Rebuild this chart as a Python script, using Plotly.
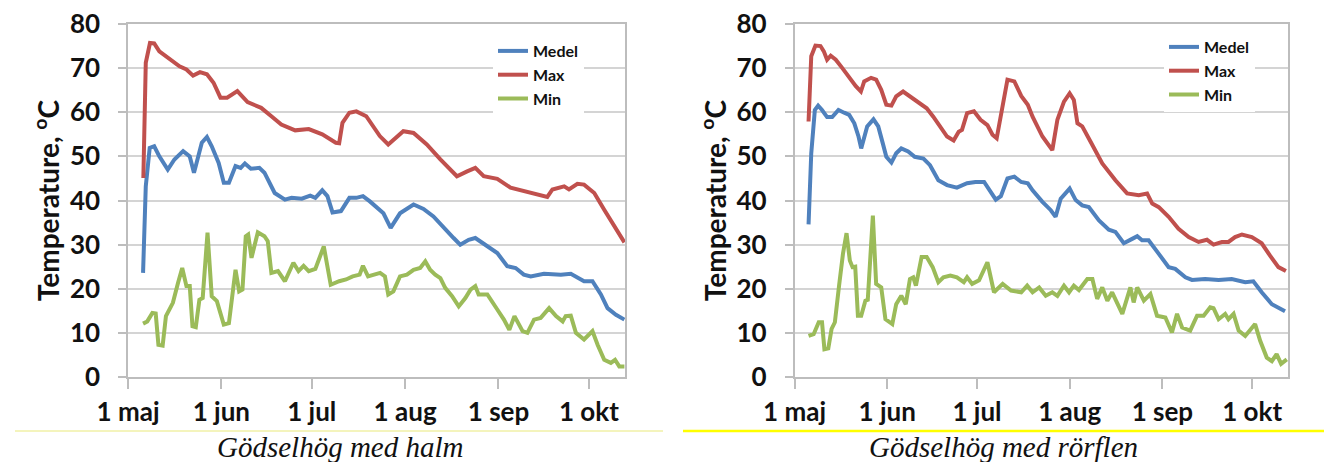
import plotly.graph_objects as go

# ---------------- data (x = days since 1 May) ----------------
month_ticks = [0, 31, 61, 92, 123, 153]
month_labels = ["1 maj", "1 jun", "1 jul", "1 aug", "1 sep", "1 okt"]
series_names = ["Medel", "Max", "Min"]
series_colors = ["#4F81BD", "#C0504D", "#9BBB59"]

# Left chart: Gödselhög med halm
halm_medel_day = [5.0, 5.9, 7.2, 8.7, 10.4, 13.2, 15.4, 18.3, 20.5, 21.9, 22.5, 24.5, 26.2, 27.8, 30.1,
                  31.8, 33.5, 35.7, 37.4, 38.8, 40.8, 43.6, 45.3, 48.7, 52.1, 54.3, 57.7, 60.5, 62.2, 64.5,
                  66.2, 67.9, 70.7, 73.5, 75.8, 78.0, 80.3, 84.8, 87.2, 90.3, 94.8, 98.1, 101.4, 104.8, 108.1,
                  110.3, 113.1, 115.3, 118.7, 122.6, 125.9, 128.7, 131.4, 133.7, 138.1, 143.7, 147.0, 151.4,
                  154.2, 157.0, 159.2, 162.0, 164.8]
halm_medel = [23.6, 43.2, 51.9, 52.3, 50.0, 47.0, 49.3, 51.2, 50.0, 46.3, 47.8, 53.1, 54.4, 52.3, 48.5,
              44.0, 44.0, 47.8, 47.4, 48.4, 47.2, 47.4, 46.3, 41.7, 40.2, 40.6, 40.4, 41.1, 40.6, 42.3,
              41.0, 37.3, 37.6, 40.6, 40.6, 41.0, 39.8, 37.1, 33.8, 37.1, 39.1, 38.1, 36.4, 33.8, 31.5,
              30.0, 31.1, 31.5, 30.0, 28.1, 25.1, 24.7, 23.2, 22.8, 23.4, 23.2, 23.4, 21.7,
              21.7, 18.7, 15.6, 14.1, 13.0]

halm_max_day = [5.1, 5.9, 7.3, 8.7, 10.4, 12.6, 14.9, 17.1, 19.4, 21.6, 23.9, 26.2, 28.4, 30.7, 32.9,
                36.3, 39.7, 44.2, 47.6, 50.9, 55.5, 60.0, 64.5, 69.0, 70.1, 71.2, 73.5, 75.8, 79.1, 80.3,
                83.6, 86.4, 91.4, 94.8, 99.2, 103.7, 109.2, 112.6, 115.3, 118.1, 122.6, 127.0, 131.4, 135.9,
                139.2, 140.9, 144.8, 146.4, 149.2, 151.4, 154.8, 158.1, 161.4, 164.8]
halm_max = [45.1, 71.2, 75.7, 75.6, 73.8, 72.7, 71.6, 70.4, 69.7, 68.3, 69.1, 68.6, 66.7, 63.3, 63.3,
            64.8, 62.3, 61.0, 59.1, 57.2, 55.9, 56.2, 55.0, 53.1, 53.0, 57.6, 59.9, 60.2, 59.1, 58.0,
            54.6, 52.7, 55.7, 55.3, 52.7, 49.3, 45.5, 46.6, 47.4, 45.5, 44.9, 42.9, 42.1, 41.3,
            40.8, 42.5, 43.2, 42.5, 43.8, 43.6, 41.7, 37.9, 34.2, 30.5]

halm_min_day = [5.0, 6.4, 8.1, 9.2, 10.1, 11.5, 12.6, 14.9, 16.6, 18.0, 19.4, 20.5, 21.4, 22.5, 23.7,
                24.8, 26.4, 27.8, 29.5, 31.8, 33.5, 35.7, 36.9, 38.0, 39.1, 39.9, 41.0, 43.1, 45.3, 46.4,
                47.6, 49.8, 52.1, 54.9, 56.6, 58.3, 60.0, 62.2, 65.0, 67.3, 70.1, 72.4, 74.6, 76.9, 78.0,
                79.7, 83.7, 85.3, 86.4, 88.1, 90.3, 92.6, 94.8, 97.0, 98.7, 100.3, 102.0, 103.7, 105.3,
                107.6, 109.8, 112.0, 113.7, 115.3, 116.4, 119.3, 122.6, 124.8, 126.6, 128.3, 131.0, 132.6,
                134.8, 137.0, 139.8, 142.1, 144.3, 145.3, 147.0, 148.7, 151.4, 154.2, 155.9, 158.1, 160.3,
                161.7, 163.1, 164.8]
halm_min = [12.1, 12.6, 14.5, 14.4, 7.3, 7.1, 13.8, 16.8, 21.3, 24.7, 20.6, 20.6, 11.5, 11.3, 17.5,
            17.9, 32.7, 18.3, 17.2, 11.9, 12.2, 24.3, 19.4, 19.8, 31.9, 32.3, 27.0, 32.8, 31.9, 30.8,
            23.6, 24.0, 21.7, 25.9, 24.0, 25.2, 24.0, 24.5, 29.6, 20.9, 21.7, 22.1, 22.8, 23.2, 25.2,
            22.8, 23.6, 22.8, 18.7, 19.4, 22.8, 23.2, 24.3, 24.7, 26.2, 24.3, 23.2, 22.4, 20.2,
            18.3, 16.0, 17.9, 19.8, 20.6, 18.7, 18.7, 15.3, 13.0, 10.7, 13.8, 10.4, 10.0,
            13.0, 13.4, 15.6, 13.8, 12.6, 13.8, 13.9, 10.0, 8.5, 10.4, 7.3, 3.9, 3.2,
            3.9, 2.4, 2.4]

# Right chart: Gödselhög med rörflen
ror_medel_day = [4.7, 5.6, 6.8, 7.9, 9.2, 10.9, 12.6, 14.7, 16.6, 18.3, 20.0, 21.4, 22.3, 24.3, 26.4,
                 28.0, 29.5, 30.7, 32.4, 34.0, 35.7, 38.0, 40.2, 43.1, 45.3, 48.1, 51.0, 54.3, 57.7, 60.5,
                 63.4, 65.6, 67.3, 69.0, 71.2, 73.5, 75.8, 78.0, 79.6, 82.9, 85.7, 87.3, 89.0, 92.0, 94.0,
                 96.2, 98.4, 101.8, 105.1, 107.3, 110.1, 112.9, 114.6, 116.2, 118.4, 121.8, 125.1, 127.3,
                 130.7, 132.9, 137.3, 141.8, 146.2, 150.7, 153.4, 156.2, 159.6, 164.0]
ror_medel = [34.6, 50.7, 60.5, 61.5, 60.5, 58.9, 58.9, 60.5, 59.9, 59.4, 57.5, 54.5, 51.8, 56.8, 58.4,
             56.8, 53.0, 49.9, 48.6, 50.7, 51.8, 51.1, 49.9, 49.5, 48.0, 44.6, 43.5, 42.9, 43.9, 44.2,
             44.2, 42.0, 40.2, 41.0, 45.0, 45.4, 44.2, 43.9, 42.3, 39.7, 37.8, 36.3, 40.4, 42.7, 40.1,
             38.9, 38.5, 35.5, 33.4, 32.9, 30.3, 31.3, 31.9, 31.0, 31.0, 27.9, 24.9, 24.5,
             22.6, 22.0, 22.2, 22.0, 22.2, 21.5, 21.7, 19.2, 16.5, 14.9]

ror_max_day = [4.7, 5.6, 7.0, 8.7, 9.8, 10.9, 12.1, 13.8, 16.0, 18.3, 20.5, 22.2, 23.3, 25.6, 27.3,
               29.0, 30.7, 32.4, 34.0, 36.3, 38.6, 40.8, 44.2, 46.4, 48.7, 51.0, 53.2, 54.9, 56.0, 57.7,
               60.0, 62.2, 64.5, 66.2, 67.6, 69.6, 71.2, 73.5, 75.8, 78.0, 79.6, 82.9, 86.2, 87.9, 90.1,
               92.0, 93.4, 94.6, 96.2, 99.0, 102.9, 107.3, 111.2, 115.1, 117.9, 119.6, 121.8, 125.1,
               128.4, 131.8, 135.1, 137.9, 140.1, 142.9, 145.1, 147.3, 149.6, 152.9, 156.2, 159.0,
               161.8, 164.3]
ror_max = [57.9, 72.7, 75.1, 75.0, 73.8, 71.9, 72.8, 71.9, 70.0, 67.8, 65.9, 64.7, 67.0, 67.8, 67.4,
           65.1, 61.7, 61.5, 63.6, 64.7, 63.6, 62.4, 60.9, 59.0, 56.8, 54.5, 53.6, 55.6, 56.0, 59.8,
           60.2, 58.3, 57.1, 54.9, 54.1, 62.1, 67.4, 67.0, 63.7, 61.7, 59.0, 54.5, 51.4, 58.3, 62.4,
           64.3, 62.8, 57.5, 56.8, 53.3, 48.4, 44.6, 41.6, 41.2, 41.6, 39.3, 38.5, 36.3,
           33.6, 31.7, 30.6, 31.1, 30.0, 30.6, 30.6, 31.7, 32.3, 31.7, 30.3, 27.5,
           24.9, 24.0]

ror_min_day = [4.7, 6.4, 8.1, 9.2, 10.0, 11.3, 12.4, 13.5, 14.9, 16.2, 17.4, 18.5, 19.4, 20.3, 21.2,
               22.3, 23.7, 24.5, 26.2, 27.3, 29.0, 30.4, 32.7, 34.0, 35.7, 37.2, 38.6, 39.7, 40.6, 42.5,
               44.2, 46.2, 48.1, 49.8, 52.1, 54.3, 56.6, 57.7, 59.4, 61.7, 64.5, 66.7, 69.6, 72.4, 75.8,
               77.8, 79.6, 81.8, 84.0, 86.2, 87.9, 90.1, 91.8, 93.4, 95.1, 97.9, 99.6, 101.2, 102.9,
               104.6, 106.2, 109.6, 112.3, 113.4, 114.6, 116.8, 119.0, 121.2, 124.0, 126.2, 127.9,
               129.6, 132.3, 134.6, 136.8, 139.0, 140.1, 141.8, 144.0, 145.1, 146.8, 148.5, 150.7,
               154.0, 155.7, 157.9, 159.6, 161.2, 162.7, 164.6]
ror_min = [9.3, 9.7, 12.4, 12.4, 6.3, 6.5, 10.9, 12.4, 20.7, 27.9, 32.6, 26.4, 24.9, 25.0, 13.9,
           13.9, 17.3, 17.5, 36.6, 21.1, 20.3, 13.1, 12.0, 16.5, 18.4, 16.5, 22.2, 22.6, 20.7, 27.2,
           27.2, 24.9, 21.5, 22.6, 23.0, 22.6, 21.5, 22.6, 21.1, 21.9, 26.0, 19.2, 21.1, 19.6, 19.2,
           20.7, 19.2, 20.3, 18.4, 19.2, 18.4, 20.7, 19.2, 20.7, 19.7, 22.2, 22.2, 17.7, 20.3,
           17.3, 19.2, 14.3, 20.3, 16.9, 20.3, 17.3, 18.8, 13.9, 13.5, 10.1, 14.3,
           11.2, 10.5, 13.9, 13.9, 15.8, 15.6, 13.1, 14.3, 13.1, 14.3, 10.5, 9.3,
           12.0, 8.2, 4.4, 3.6, 5.2, 3.0, 4.0]

captions = ["Gödselhög med halm", "Gödselhög med rörflen"]
y_title = "Temperature, <sup>o</sup>C"

# ---------------- figure ----------------
OFF = 8                      # page body margin of the browser
W, H = 1332 - OFF, 462 - OFF


def px(x):
    return (x - OFF) / W


def py(y):
    return 1 - (y - OFF) / H


fig = go.Figure()

charts = [
    ("x", "y", "legend", [(halm_medel_day, halm_medel), (halm_max_day, halm_max), (halm_min_day, halm_min)]),
    ("x2", "y2", "legend2", [(ror_medel_day, ror_medel), (ror_max_day, ror_max), (ror_min_day, ror_min)]),
]
for xa, ya, lg, data in charts:
    for name, color, (dx, dy) in zip(series_names, series_colors, data):
        fig.add_trace(go.Scatter(x=dx, y=dy, mode="lines", name=name, xaxis=xa, yaxis=ya,
                                 legend=lg, line=dict(color=color, width=4)))

tick_font = dict(family="Lato", size=26, color="#111111", weight="bold")
grid_col = "#d4d4d4"
line_col = "#bdbdbd"


def xaxis_cfg(domain, anchor):
    return dict(domain=domain, anchor=anchor, range=[0, 165], tickmode="array",
                tickvals=month_ticks, ticktext=month_labels, ticks="outside", ticklen=10,
                tickcolor=line_col, tickwidth=1.5, showgrid=False, showline=True, mirror=True,
                linecolor=line_col, linewidth=1.5, zeroline=False, tickfont=tick_font,
                ticklabelstandoff=1, ticklabeloverflow="allow", automargin=False, fixedrange=True)


def yaxis_cfg(domain, anchor):
    return dict(domain=domain, anchor=anchor, range=[0, 80], dtick=10, ticks="outside", ticklen=8,
                tickcolor=line_col, tickwidth=1.5, showgrid=True, gridcolor=grid_col, gridwidth=1.8,
                showline=True, mirror=True, linecolor=line_col, linewidth=1.5, zeroline=False,
                tickfont=tick_font, ticklabelstandoff=13, ticklabeloverflow="allow", automargin=False,
                title=dict(text=y_title, font=dict(family="Lato", size=28, color="#111111", weight="bold"),
                           standoff=2),
                fixedrange=True)


legend_font = dict(family="Lato", size=16, color="#111111", weight="bold")
ydom = [py(377), py(24)]
fig.update_layout(
    width=W, height=H, margin=dict(l=0, r=0, t=0, b=0, autoexpand=False),
    paper_bgcolor="white", plot_bgcolor="white",
    xaxis=xaxis_cfg([px(128), px(625)], "y"),
    yaxis=yaxis_cfg(ydom, "x"),
    xaxis2=xaxis_cfg([px(794.5), px(1288)], "y2"),
    yaxis2=yaxis_cfg(ydom, "x2"),
    legend=dict(x=px(493), y=py(34), xanchor="left", yanchor="top", bgcolor="white",
                font=legend_font, itemwidth=30, tracegroupgap=0),
    legend2=dict(x=px(1164), y=py(30), xanchor="left", yanchor="top", bgcolor="white",
                 font=legend_font, itemwidth=30, tracegroupgap=0),
    showlegend=True,
)

# caption separators
fig.add_shape(type="line", xref="paper", yref="paper", x0=px(15), x1=px(663),
              y0=py(431), y1=py(431), line=dict(color="#e9e97a", width=1))
fig.add_shape(type="line", xref="paper", yref="paper", x0=px(683), x1=px(1327),
              y0=py(431), y1=py(431), line=dict(color="#ffff00", width=2.5))

for cx, text in zip([340, 1003], captions):
    fig.add_annotation(x=px(cx), y=py(447), xref="paper", yref="paper", text=text,
                       showarrow=False, xanchor="center", yanchor="middle",
                       font=dict(family="Liberation Serif", size=29, color="#111111", style="italic"))

fig.write_html("out.html")
